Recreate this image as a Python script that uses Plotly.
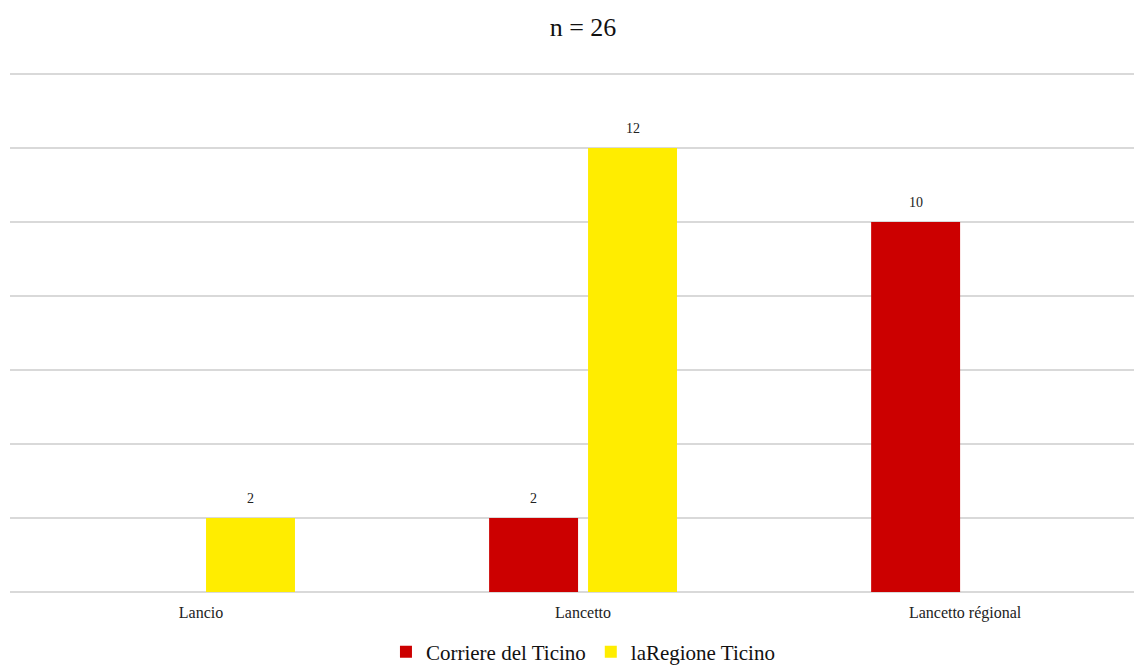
import plotly.graph_objects as go

categories = ["Lancio", "Lancetto", "Lancetto régional"]
series_names = ["Corriere del Ticino", "laRegione Ticino"]
corriere = [0, 2, 10]
laregione = [2, 12, 0]
colors = ["#CC0000", "#FFED00"]
title_text = "n = 26"

FONT = "Liberation Serif"

fig = go.Figure()
for name, vals, col in zip(series_names, [corriere, laregione], colors):
    fig.add_trace(go.Bar(
        x=categories, y=vals, name=name, marker=dict(color=col, line=dict(width=0)),
        hoverinfo="x+y+name",
    ))

# data labels (skip zero values)
offsets = [-49.5, 49.5]
for vals, off in zip([corriere, laregione], offsets):
    for c, v in zip(categories, vals):
        if v:
            fig.add_annotation(x=c, y=v, text=str(v), showarrow=False,
                               xshift=off, yshift=20, yanchor="middle",
                               font=dict(family=FONT, size=14, color="#222222"))

fig.update_layout(
    width=1142, height=665,
    margin=dict(l=2, r=0, t=65, b=81),
    paper_bgcolor="white", plot_bgcolor="white",
    barmode="group", bargap=0.482, bargroupgap=0.101,
    title=dict(text=title_text, x=0.5026, xref="paper", xanchor="center",
               y=1 - 19 / 665, yanchor="middle", yref="container",
               font=dict(family=FONT, size=26, color="#111111")),
    font=dict(family=FONT, color="#222222"),
    showlegend=True,
    legend=dict(orientation="h", x=0.5026, xanchor="center",
                y=21 / 665, yanchor="middle", yref="container",
                font=dict(family=FONT, size=21, color="#111111"),
                itemwidth=30, traceorder="normal"),
    xaxis=dict(range=[-0.5, 2.484], showgrid=False, showline=False, zeroline=False,
               tickfont=dict(family=FONT, size=16, color="#222222"), ticks="",
               ticklabelstandoff=9),
    yaxis=dict(range=[0, 14.03], dtick=2, showticklabels=False, showgrid=True,
               gridcolor="#D9D9D9", gridwidth=2, zeroline=True, zerolinecolor="#D9D9D9",
               zerolinewidth=2, showline=False, ticks=""),
)

fig.write_html("out.html")
